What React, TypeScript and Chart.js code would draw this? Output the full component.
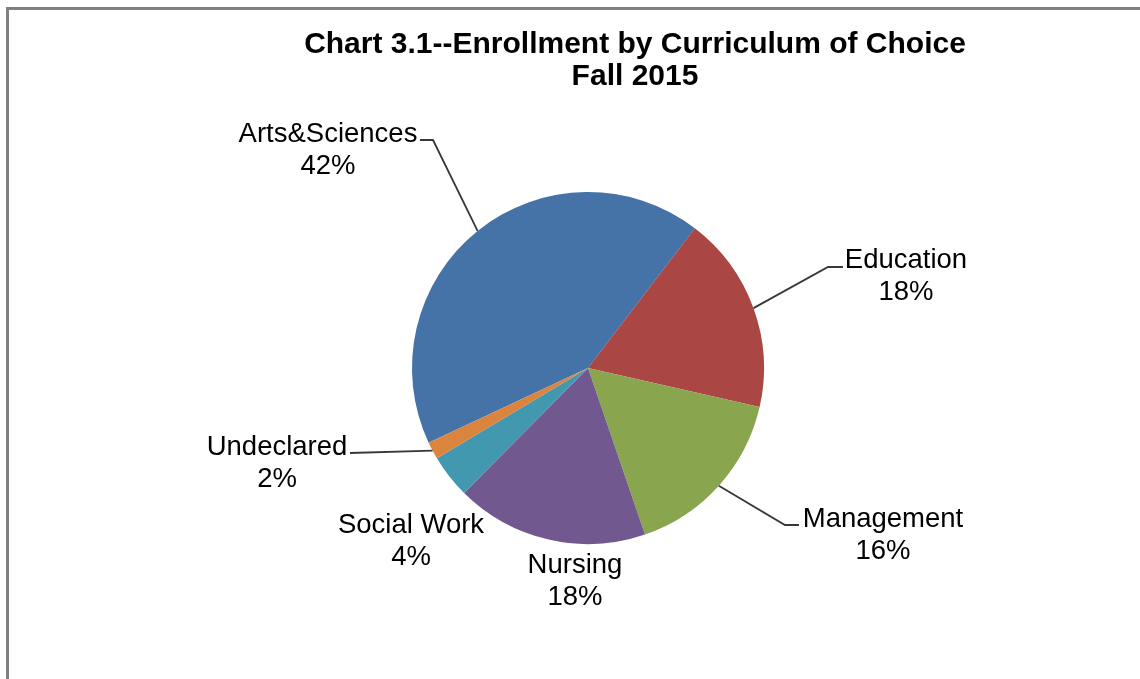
import React, { useEffect, useRef } from 'react';
import { Chart, registerables } from 'chart.js';

Chart.register(...registerables);

// ---- data ----
const categories = ['Arts&Sciences', 'Education', 'Management', 'Nursing', 'Social Work', 'Undeclared'];
const shares = [42.4, 18.2, 16.2, 17.7, 4.0, 1.6];
const sliceColors = ['#4572A7', '#AA4643', '#89A54E', '#71588F', '#4198AF', '#DB843D'];
const titleLines = ['Chart 3.1--Enrollment by Curriculum of Choice', 'Fall 2015'];

// ---- label placement (relative to pie centre, px) ----
const labelLayout: { x: number; y: number; elbow?: [number, number]; end?: [number, number] }[] = [
  { x: -260, y: -234, elbow: [-155, -228], end: [-168, -228] },
  { x: 318, y: -108, elbow: [240, -101], end: [255, -101] },
  { x: 295, y: 151, elbow: [197, 157], end: [211, 157] },
  { x: -13, y: 197 },
  { x: -177, y: 157 },
  { x: -311, y: 79, elbow: [-238, 85], end: [-238, 85] },
];

const FONT = '"Liberation Sans", Arial, sans-serif';

const decorPlugin = {
  id: 'decor',
  beforeDraw(chart: any) {
    const ctx = chart.ctx;
    ctx.save();
    ctx.fillStyle = '#ffffff';
    ctx.fillRect(0, 0, chart.width, chart.height);
    ctx.strokeStyle = '#808080';
    ctx.lineWidth = 3;
    ctx.beginPath();
    ctx.moveTo(7.5, chart.height);
    ctx.lineTo(7.5, 8.5);
    ctx.lineTo(chart.width, 8.5);
    ctx.stroke();
    ctx.restore();
  },
  afterDatasetsDraw(chart: any) {
    const ctx = chart.ctx;
    const meta = chart.getDatasetMeta(0);
    const total = shares.reduce((a, b) => a + b, 0);
    ctx.save();
    // title
    ctx.fillStyle = '#000000';
    ctx.textAlign = 'center';
    ctx.textBaseline = 'middle';
    ctx.font = `bold 30px ${FONT}`;
    const tx = 635;
    titleLines.forEach((t, i) => ctx.fillText(t, tx, 45 + i * 32));

    meta.data.forEach((el: any, i: number) => {
      const p = el.getProps(['x', 'y', 'startAngle', 'endAngle', 'outerRadius'], true);
      const mid = (p.startAngle + p.endAngle) / 2;
      const ex = p.x + Math.cos(mid) * p.outerRadius;
      const ey = p.y + Math.sin(mid) * p.outerRadius;
      const lay = labelLayout[i];
      if (lay.elbow && lay.end) {
        ctx.strokeStyle = '#383838';
        ctx.lineWidth = 1.8;
        ctx.beginPath();
        ctx.moveTo(ex, ey);
        ctx.lineTo(p.x + lay.elbow[0], p.y + lay.elbow[1]);
        ctx.lineTo(p.x + lay.end[0], p.y + lay.end[1]);
        ctx.stroke();
      }
      const pct = Math.round((shares[i] / total) * 100) + '%';
      ctx.fillStyle = '#000000';
      ctx.font = `27.5px ${FONT}`;
      ctx.textAlign = 'center';
      ctx.textBaseline = 'middle';
      ctx.fillText(categories[i], p.x + lay.x, p.y + lay.y);
      ctx.fillText(pct, p.x + lay.x, p.y + lay.y + 32);
    });
    ctx.restore();
  },
};

export default function App() {
  const canvasRef = useRef<HTMLCanvasElement | null>(null);

  useEffect(() => {
    if (!canvasRef.current) return;
    const chart = new Chart(canvasRef.current, {
      type: 'pie',
      data: {
        labels: categories,
        datasets: [
          {
            data: shares,
            backgroundColor: sliceColors,
            borderWidth: 0,
          },
        ],
      },
      options: {
        animation: false,
        responsive: true,
        maintainAspectRatio: false,
        rotation: 244.9,
        layout: { padding: { top: 192, bottom: 135, left: 288, right: 252 } },
        plugins: {
          legend: { display: false },
          title: { display: false },
          tooltip: { enabled: false },
        },
      },
      plugins: [decorPlugin],
    });
    return () => chart.destroy();
  }, []);

  return (
    <div style={{ position: 'fixed', left: 0, top: 0, width: 1140, height: 679, background: '#fff' }}>
      <canvas ref={canvasRef} />
    </div>
  );
}
